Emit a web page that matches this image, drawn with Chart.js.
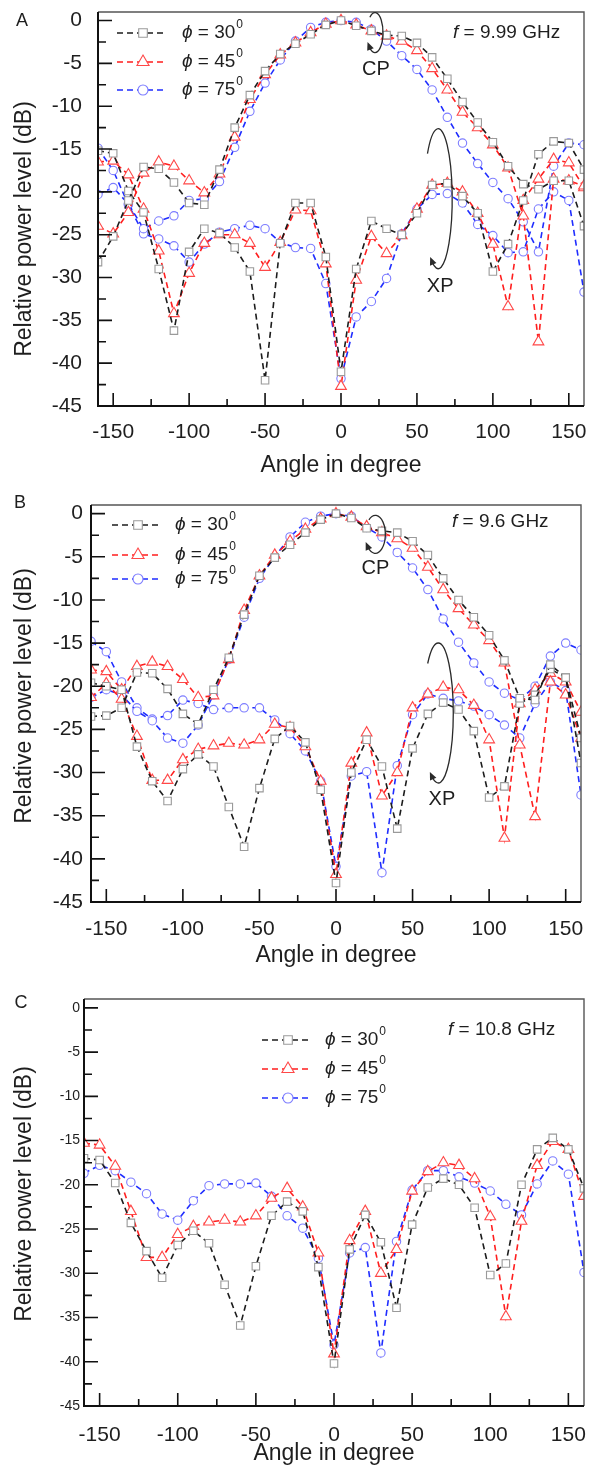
<!DOCTYPE html>
<html>
<head>
<meta charset="utf-8">
<title>Relative power patterns</title>
<script src="https://cdn.jsdelivr.net/npm/chart.js@4.4.1/dist/chart.umd.min.js"></script>
<style>
  body { margin: 0; background: #fff; }
  #wrap { position: relative; width: 596px; height: 1468px; overflow: hidden; }
  canvas { position: absolute; left: 0; }
</style>
</head>
<body>
<div id="wrap">
  <canvas id="chartA" width="596" height="490" style="top:0px"></canvas>
  <canvas id="chartB" width="596" height="485" style="top:490px"></canvas>
  <canvas id="chartC" width="596" height="493" style="top:975px"></canvas>
</div>
<script>
// angles in degree, one value every 10 deg
const angles = [-160, -150, -140, -130, -120, -110, -100, -90, -80, -70, -60, -50, -40, -30, -20, -10,
  0, 10, 20, 30, 40, 50, 60, 70, 80, 90, 100, 110, 120, 130, 140, 150, 160];

const xMajor = [-150, -100, -50, 0, 50, 100, 150];
const xMinor = [-125, -75, -25, 25, 75, 125];
const yMajor = [-45, -40, -35, -30, -25, -20, -15, -10, -5, 0];
const yMinor = [-42.5, -37.5, -32.5, -27.5, -22.5, -17.5, -12.5, -7.5, -2.5];
const phiLabels = ['30', '45', '75'];

// (A) f = 9.99 GHz
const A_cp30 = [-28.2, -25.2, -21.0, -17.1, -17.3, -18.9, -21.3, -21.5, -17.4, -12.5, -8.7, -5.9, -3.9, -2.7, -1.6, -0.5,
  0, -0.6, -1.2, -1.7, -1.8, -2.6, -4.3, -6.8, -9.5, -11.9, -14.2, -17.0, -19.1, -19.7, -18.7, -18.7, -24.0];
const A_xp30 = [-15.2, -15.5, -19.9, -22.4, -29.0, -36.2, -27.0, -24.3, -24.8, -26.5, -29.3, -42.0, -26.0, -21.3, -21.3, -27.6,
  -41.0, -29.0, -23.4, -24.3, -25.0, -22.5, -19.2, -19.0, -20.5, -22.5, -29.3, -26.1, -21.0, -15.6, -14.1, -14.3, -17.4];
const A_cp45 = [-24.0, -24.9, -22.4, -17.8, -16.5, -17.0, -18.7, -20.1, -17.9, -13.6, -9.2, -6.3, -4.0, -2.6, -1.4, -0.4,
  0, -0.5, -1.2, -1.8, -2.4, -3.5, -5.6, -8.1, -10.7, -12.5, -14.5, -17.2, -22.8, -37.5, -18.5, -18.7, -19.3];
const A_xp45 = [-16.5, -16.4, -18.0, -22.0, -26.9, -34.2, -29.5, -26.0, -25.0, -25.0, -26.0, -28.8, -25.9, -22.1, -22.2, -28.4,
  -42.7, -30.3, -25.2, -27.2, -25.1, -22.0, -19.2, -19.0, -20.0, -22.5, -26.1, -33.4, -21.0, -18.5, -16.2, -16.6, -19.5];
const A_cp75 = [-20.3, -19.5, -21.4, -24.3, -23.4, -22.8, -21.0, -20.8, -18.8, -14.8, -10.6, -7.3, -4.6, -2.4, -0.8, -0.2,
  0, -0.2, -1.0, -2.4, -4.1, -5.7, -8.1, -11.3, -14.3, -16.7, -18.9, -20.8, -23.5, -27.0, -17.0, -14.3, -14.5];
const A_xp75 = [-14.9, -17.5, -21.5, -24.9, -25.5, -26.3, -28.2, -26.1, -24.7, -24.3, -23.9, -24.3, -25.9, -26.5, -26.6, -30.7,
  -41.8, -34.6, -32.8, -30.1, -24.9, -22.0, -20.3, -20.2, -21.3, -23.8, -25.1, -27.1, -27.0, -22.0, -20.0, -21.0, -31.7];

// (B) f = 9.6 GHz
const B_cp30 = [-23.5, -23.4, -22.5, -18.4, -18.5, -20.3, -23.2, -24.4, -20.4, -16.7, -11.7, -7.2, -5.1, -3.6, -2.2, -0.7,
  0, -0.5, -1.7, -2.0, -2.2, -3.2, -4.8, -7.5, -10.0, -12.0, -14.1, -17.0, -21.4, -21.6, -17.5, -19.0, -28.9];
const B_xp30 = [-19.6, -20.0, -20.4, -27.0, -31.0, -33.3, -29.6, -27.9, -29.3, -34.0, -38.6, -31.8, -26.1, -24.6, -26.5, -32.0,
  -42.8, -30.0, -26.2, -29.3, -36.5, -27.2, -23.2, -21.9, -22.7, -25.2, -32.9, -31.6, -22.0, -21.0, -18.0, -19.0, -26.0];
const B_cp45 = [-18.1, -18.3, -20.4, -17.7, -17.2, -17.7, -19.2, -21.3, -21.1, -16.9, -11.2, -7.2, -4.8, -3.2, -1.8, -0.6,
  0, -0.4, -1.5, -2.2, -2.9, -4.0, -6.2, -8.8, -11.0, -12.9, -14.7, -17.3, -26.8, -35.1, -19.5, -21.0, -26.0];
const B_xp45 = [-21.3, -19.7, -21.5, -25.8, -30.9, -30.9, -28.5, -27.3, -26.9, -26.6, -26.8, -26.2, -24.4, -24.8, -27.0, -31.0,
  -41.8, -28.9, -25.4, -32.7, -30.0, -22.5, -20.9, -20.1, -20.4, -22.2, -26.2, -37.6, -22.0, -20.4, -18.5, -19.5, -23.0];
const B_cp75 = [-21.3, -20.4, -21.0, -22.9, -24.0, -26.0, -26.6, -24.5, -21.0, -16.9, -12.0, -7.5, -5.0, -2.7, -1.0, -0.3,
  0, -0.3, -1.6, -2.7, -4.5, -6.3, -8.8, -12.2, -14.9, -17.3, -19.5, -20.8, -21.6, -20.0, -16.5, -15.0, -15.8];
const B_xp75 = [-14.8, -16.0, -19.5, -22.5, -23.8, -23.4, -21.6, -22.0, -22.7, -22.5, -22.5, -22.5, -23.9, -25.5, -27.5, -31.0,
  -40.9, -30.4, -29.9, -41.6, -29.2, -23.3, -20.9, -21.4, -21.7, -22.3, -23.3, -24.5, -26.0, -22.0, -19.5, -20.5, -32.6];

// (C) f = 10.8 GHz
const C_xp30 = [-17.0, -17.2, -19.8, -24.3, -27.5, -30.5, -26.8, -25.2, -26.6, -31.3, -35.9, -29.2, -23.5, -21.9, -23.0, -29.3,
  -40.2, -27.3, -23.4, -26.5, -33.9, -24.5, -20.3, -19.3, -20.0, -22.6, -30.2, -28.9, -20.0, -16.0, -14.7, -16.0, -20.4];
const C_xp45 = [-15.3, -15.5, -17.9, -23.0, -28.2, -28.2, -25.6, -24.7, -24.2, -24.0, -24.2, -23.5, -21.5, -20.4, -22.5, -27.7,
  -39.1, -26.3, -23.0, -30.0, -27.3, -20.7, -18.5, -17.5, -17.8, -19.3, -23.6, -34.9, -24.1, -17.8, -15.1, -16.0, -21.3];
const C_xp75 = [-18.7, -17.8, -18.4, -19.7, -21.0, -23.3, -24.0, -21.8, -20.1, -19.9, -19.9, -19.8, -21.3, -23.5, -24.9, -28.3,
  -38.1, -27.7, -27.1, -39.0, -26.4, -20.6, -18.4, -18.4, -19.1, -19.8, -20.7, -22.2, -23.4, -19.9, -17.3, -18.8, -29.9];

const FONT = '"Liberation Sans", Arial, Helvetica, sans-serif';

// one style per phi: dashed line colour, marker colour, marker shape
const looks = [
  { line: '#1c1c1c', mark: '#9a9a9a', shape: 'rect', r: 5.3 },
  { line: '#ff1e1e', mark: '#ff4848', shape: 'triangle', r: 6.2 },
  { line: '#1f2dff', mark: '#7d7dff', shape: 'circle', r: 4.2 }
];

function pts(vals) {
  return angles.map((a, i) => ({ x: a, y: vals[i] }));
}

function dataset(vals, k, name) {
  const s = looks[k];
  return {
    label: name,
    data: pts(vals),
    borderColor: s.line,
    borderWidth: 1.6,
    borderDash: [6, 4],
    pointStyle: s.shape,
    pointRadius: s.r,
    pointBorderColor: s.mark,
    pointBackgroundColor: '#fff',
    pointBorderWidth: 1.1,
    tension: 0
  };
}

function text(ctx, str, x, y, size, opts) {
  opts = opts || {};
  ctx.font = (opts.italic ? 'italic ' : '') + size + 'px ' + FONT;
  ctx.textAlign = opts.align || 'left';
  ctx.textBaseline = 'middle';
  ctx.fillStyle = '#1e1e1e';
  ctx.fillText(str, x, y);
  return ctx.measureText(str).width;
}

function hook(ctx, cx, cy, rx, ry, t0, t1) {
  const a0 = t0 * Math.PI / 180, a1 = t1 * Math.PI / 180;
  ctx.strokeStyle = '#2a2a2a';
  ctx.lineWidth = 1.3;
  ctx.setLineDash([]);
  ctx.beginPath();
  ctx.ellipse(cx, cy, rx, ry, 0, a0, a1, false);
  ctx.stroke();
  const ex = cx + rx * Math.cos(a1), ey = cy + ry * Math.sin(a1);
  let dx = -rx * Math.sin(a1), dy = ry * Math.cos(a1);
  const d = Math.hypot(dx, dy); dx /= d; dy /= d;
  ctx.fillStyle = '#2a2a2a';
  ctx.beginPath();
  ctx.moveTo(ex + dx * 5, ey + dy * 5);
  ctx.lineTo(ex - dx * 3 - dy * 3.5, ey - dy * 3 + dx * 3.5);
  ctx.lineTo(ex - dx * 3 + dy * 3.5, ey - dy * 3 - dx * 3.5);
  ctx.closePath();
  ctx.fill();
}

const decor = {
  id: 'decor',
  afterDraw(chart, args, p) {
    const ctx = chart.ctx, ca = chart.chartArea;
    const xs = chart.scales.x, ys = chart.scales.y;
    ctx.save();
    ctx.setLineDash([]);
    // frame
    ctx.strokeStyle = '#555';
    ctx.lineWidth = 1.4;
    ctx.beginPath();
    ctx.moveTo(ca.left, ca.top); ctx.lineTo(ca.right, ca.top); ctx.lineTo(ca.right, ca.bottom);
    ctx.stroke();
    ctx.strokeStyle = '#111';
    ctx.lineWidth = 2;
    ctx.beginPath();
    ctx.moveTo(ca.left, ca.top); ctx.lineTo(ca.left, ca.bottom); ctx.lineTo(ca.right, ca.bottom);
    ctx.stroke();
    // inward ticks
    ctx.lineWidth = 1.6;
    ctx.beginPath();
    xMajor.forEach(v => { const px = xs.getPixelForValue(v); ctx.moveTo(px, ca.bottom); ctx.lineTo(px, ca.bottom - 13); });
    xMinor.forEach(v => { const px = xs.getPixelForValue(v); ctx.moveTo(px, ca.bottom); ctx.lineTo(px, ca.bottom - 7); });
    yMajor.forEach(v => { const py = ys.getPixelForValue(v); ctx.moveTo(ca.left, py); ctx.lineTo(ca.left + 14, py); });
    yMinor.forEach(v => { const py = ys.getPixelForValue(v); ctx.moveTo(ca.left, py); ctx.lineTo(ca.left + 8, py); });
    ctx.stroke();

    // axis titles
    ctx.save();
    ctx.translate(p.yTitle[0], p.yTitle[1]);
    ctx.rotate(-Math.PI / 2);
    text(ctx, 'Relative power level (dB)', 0, 0, 23, { align: 'center' });
    ctx.restore();
    text(ctx, 'Angle in degree', (ca.left + ca.right) / 2, p.xTitleY, 23, { align: 'center' });

    // panel letter and frequency
    text(ctx, p.letter, p.letterPos[0], p.letterPos[1], 18, { align: 'center' });
    let w = text(ctx, 'f', p.freqPos[0], p.freqPos[1], 19, { italic: true });
    text(ctx, ' = ' + p.freq, p.freqPos[0] + w, p.freqPos[1], 19);

    // legend
    const lg = p.legend;
    looks.forEach((s, k) => {
      const y = lg.rows[k];
      ctx.strokeStyle = s.line;
      ctx.lineWidth = 1.6;
      ctx.setLineDash([6, 4]);
      ctx.beginPath(); ctx.moveTo(lg.x1, y); ctx.lineTo(lg.x2, y); ctx.stroke();
      ctx.setLineDash([]);
      ctx.strokeStyle = s.mark; ctx.fillStyle = '#fff'; ctx.lineWidth = 1.1;
      Chart.helpers.drawPoint(ctx, { pointStyle: s.shape, radius: s.r + 0.8, borderWidth: 1.1, rotation: 0 }, lg.mx, y);
      let tw = text(ctx, '\u03D5', lg.tx, y, 19, { italic: true });
      tw += text(ctx, ' = ' + phiLabels[k], lg.tx + tw, y, 19);
      text(ctx, '0', lg.tx + tw + 1, y - 8, 12);
    });

    // CP / XP markers
    (p.notes || []).forEach(n => {
      const cx = xs.getPixelForValue(n.at[0]), cy = ys.getPixelForValue(n.at[1]);
      hook(ctx, cx, cy, n.rx, n.ry, n.t0, n.t1);
      text(ctx, n.label, xs.getPixelForValue(n.txt[0]), ys.getPixelForValue(n.txt[1]), 20, { align: 'center' });
    });
    ctx.restore();
  }
};

function makeChart(id, sets, p) {
  const H = document.getElementById(id).height;
  return new Chart(document.getElementById(id), {
    type: 'line',
    data: { datasets: sets },
    plugins: [decor],
    options: {
      responsive: false,
      animation: false,
      layout: { padding: { left: 0, top: p.plot.top, right: 596 - p.plot.right, bottom: 0 } },
      plugins: { legend: { display: false }, tooltip: { enabled: false }, decor: p },
      scales: {
        x: {
          type: 'linear', min: -160, max: 160,
          grid: { display: false, drawTicks: false }, border: { display: false },
          afterFit: s => { s.height = H - p.plot.bottom; s.paddingLeft = 0; s.paddingRight = 0; },
          afterBuildTicks: s => { s.ticks = xMajor.map(v => ({ value: v })); },
          ticks: { color: '#1e1e1e', padding: p.xPad, font: { family: FONT, size: 21 }, callback: v => String(v) }
        },
        y: {
          type: 'linear', min: -45, max: 1,
          grid: { display: false, drawTicks: false }, border: { display: false },
          afterFit: s => { s.width = p.plot.left; s.paddingTop = 0; s.paddingBottom = 0; },
          afterBuildTicks: s => { s.ticks = yMajor.map(v => ({ value: v })); },
          ticks: { color: '#1e1e1e', padding: p.yPad, font: { family: FONT, size: p.ySize }, callback: v => String(v) }
        }
      }
    }
  });
}

makeChart('chartA', [
  dataset(A_cp30, 0, 'phi30 CP'), dataset(A_xp30, 0, 'phi30 XP'),
  dataset(A_cp45, 1, 'phi45 CP'), dataset(A_xp45, 1, 'phi45 XP'),
  dataset(A_cp75, 2, 'phi75 CP'), dataset(A_xp75, 2, 'phi75 XP')
], {
  plot: { left: 98, right: 584, top: 12, bottom: 406 },
  xPad: 14, yPad: 16, ySize: 21,
  yTitle: [25, 229], xTitleY: 466,
  letter: 'A', letterPos: [22, 21],
  freq: '9.99 GHz', freqPos: [453, 33],
  legend: { x1: 117, x2: 165, mx: 143, tx: 182, rows: [33, 62, 90] },
  notes: [
    { at: [22.4, -1.4], rx: 8, ry: 20, t0: -130, t1: 135, label: 'CP', txt: [23, -5.7] },
    { at: [64, -20.8], rx: 14, ry: 70, t0: -140, t1: 116, label: 'XP', txt: [65.3, -31.0] }
  ]
});

makeChart('chartB', [
  dataset(B_cp30, 0, 'phi30 CP'), dataset(B_xp30, 0, 'phi30 XP'),
  dataset(B_cp45, 1, 'phi45 CP'), dataset(B_xp45, 1, 'phi45 XP'),
  dataset(B_cp75, 2, 'phi75 CP'), dataset(B_xp75, 2, 'phi75 XP')
], {
  plot: { left: 91, right: 581, top: 15, bottom: 412 },
  xPad: 15, yPad: 8, ySize: 21,
  yTitle: [25, 206], xTitleY: 466,
  letter: 'B', letterPos: [20, 13],
  freq: '9.6 GHz', freqPos: [452, 32],
  legend: { x1: 112, x2: 160, mx: 138, tx: 175, rows: [35, 65, 89] },
  notes: [
    { at: [25.7, -2.4], rx: 10, ry: 19, t0: -130, t1: 140, label: 'CP', txt: [25.7, -6.4] },
    { at: [66.8, -23.1], rx: 15, ry: 70, t0: -135, t1: 115, label: 'XP', txt: [69.2, -33.1] }
  ]
});

makeChart('chartC', [
  dataset(C_xp30, 0, 'phi30'), dataset(C_xp45, 1, 'phi45'), dataset(C_xp75, 2, 'phi75')
], {
  plot: { left: 84, right: 584, top: 24, bottom: 431 },
  xPad: 17, yPad: 4, ySize: 14,
  yTitle: [25, 219], xTitleY: 479,
  letter: 'C', letterPos: [21, 28],
  freq: '10.8 GHz', freqPos: [448, 55],
  legend: { x1: 262, x2: 312, mx: 288, tx: 325, rows: [65, 94, 123] },
  notes: []
});
</script>
</body>
</html>
